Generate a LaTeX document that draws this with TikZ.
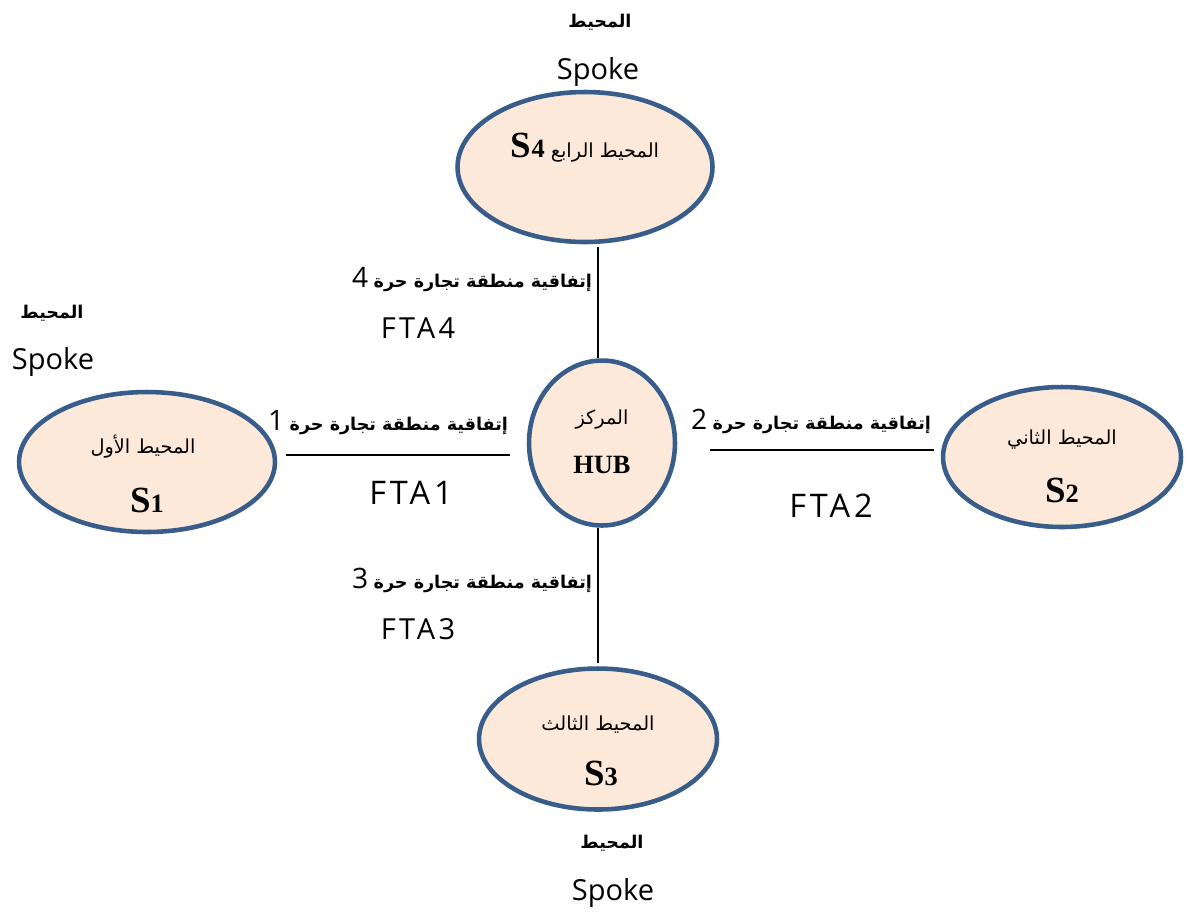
\documentclass[tikz,border=0pt]{standalone}
\usepackage{fontspec}
\setmainfont{Liberation Serif}
\newfontfamily\arabicfont[Script=Arabic]{DejaVu Sans}
\newfontfamily\latinsans{Open Sans}
\TeXXeTstate=1
\usetikzlibrary{positioning,shapes.geometric}
\definecolor{rim}{HTML}{385D8A}
\definecolor{peach}{HTML}{FDE9D9}
\tikzset{
  spk/.style={ellipse,draw=rim,fill=peach,line width=2.6pt,inner sep=0pt},
  link/.style={line width=1pt,draw=black},
  artxt/.style={font=\arabicfont\fontsize{11}{13}\selectfont,inner sep=0pt},
  lbltxt/.style={font=\arabicfont\fontsize{10}{12}\selectfont,inner sep=0pt},
  arhead/.style={font=\arabicfont\bfseries\fontsize{10}{12}\selectfont,inner sep=0pt},
  spoketxt/.style={font=\latinsans\fontsize{16.5}{19}\selectfont,inner sep=0pt},
  ftatxt/.style={font=\latinsans\addfontfeature{LetterSpace=12}\fontsize{16.5}{19}\selectfont,inner sep=0pt},
  ftabig/.style={ftatxt,font=\latinsans\addfontfeature{LetterSpace=12}\fontsize{18.5}{21}\selectfont},
  sname/.style={font=\rmfamily\bfseries\fontsize{21}{24}\selectfont,inner sep=0pt},
}
\newcommand{\fta}[1]{\beginR{\bfseries إتفاقية منطقة تجارة حرة} {\latinsans\fontsize{16}{18}\selectfont #1}\endR}
\newcommand{\sdig}[1]{{\fontsize{15}{18}\selectfont #1}}

\begin{document}
\begin{tikzpicture}[x=0.02cm,y=-0.02cm]
  \useasboundingbox (0,0) rectangle (1189,914);
  % hub and spokes
  \node[spk,minimum width=2.92cm,minimum height=3.3cm] (hub) at (602,443) {};
  \node[spk,minimum width=5.1cm,minimum height=3.0cm] (s4) at (585,167) {};
  \node[spk,minimum width=5.12cm,minimum height=2.8cm] (s1) at (147,462) {};
  \node[spk,minimum width=4.76cm,minimum height=2.8cm] (s2) at (1062,457) {};
  \node[spk,minimum width=4.76cm,minimum height=2.82cm] (s3) at (598,739) {};
  % texts inside
  \node[artxt] (hubar) at (602,420) {\beginR المركز\endR};
  \node[sname,font=\rmfamily\bfseries\fontsize{15}{18}\selectfont] (hubname) at (602,465) {HUB};
  \node[artxt] (s4ar) at (585,148) {{\rmfamily\bfseries\fontsize{21}{24}\selectfont S\sdig{4}}\ \beginR المحيط الرابع\endR};
  \node[artxt] (s1ar) at (143,447) {\beginR المحيط الأول\endR};
  \node[sname] (s1name) at (147,500) {S\sdig{1}};
  \node[artxt] (s2ar) at (1062,440) {\beginR المحيط الثاني\endR};
  \node[sname] (s2name) at (1062,490) {S\sdig{2}};
  \node[artxt] (s3ar) at (598,725) {\beginR المحيط الثالث\endR};
  \node[sname] (s3name) at (601,773) {S\sdig{3}};
  % spoke captions
  \node[arhead] (top) at (600,22) {\beginR المحيط\endR};
  \node[spoketxt] (topspoke) at (598,72) {Spoke};
  \node[arhead] (left) at (52,313) {\beginR المحيط\endR};
  \node[spoketxt] (leftspoke) at (53,362) {Spoke};
  \node[arhead] (bottom) at (612,843) {\beginR المحيط\endR};
  \node[spoketxt] (bottomspoke) at (613,893) {Spoke};
  % agreement labels
  \node[lbltxt] (l4) at (472,280) {\fta{4}};
  \node[ftatxt] (f4) at (418,328) {FTA4};
  \node[lbltxt] (l1) at (388,423) {\fta{1}};
  \node[ftabig] (f1) at (411,493) {FTA1};
  \node[lbltxt] (l2) at (811,421) {\fta{2}};
  \node[ftabig] (f2) at (831,506) {FTA2};
  \node[lbltxt] (l3) at (472,580) {\fta{3}};
  \node[ftatxt] (f3) at (418,629) {FTA3};
  % links
  \draw[link] ([shift={(13,3)}]s4.south) -- ([shift={(-4,0)}]hub.north);
  \draw[link] ([shift={(9,-7)}]s1.east) -- ([shift={(-17,12)}]hub.west);
  \draw[link] ([shift={(33,7)}]hub.east) -- ([shift={(-7,-7)}]s2.west);
  \draw[link] ([shift={(-4,0)}]hub.south) -- ([shift={(0,-3)}]s3.north);
\end{tikzpicture}
\end{document}
